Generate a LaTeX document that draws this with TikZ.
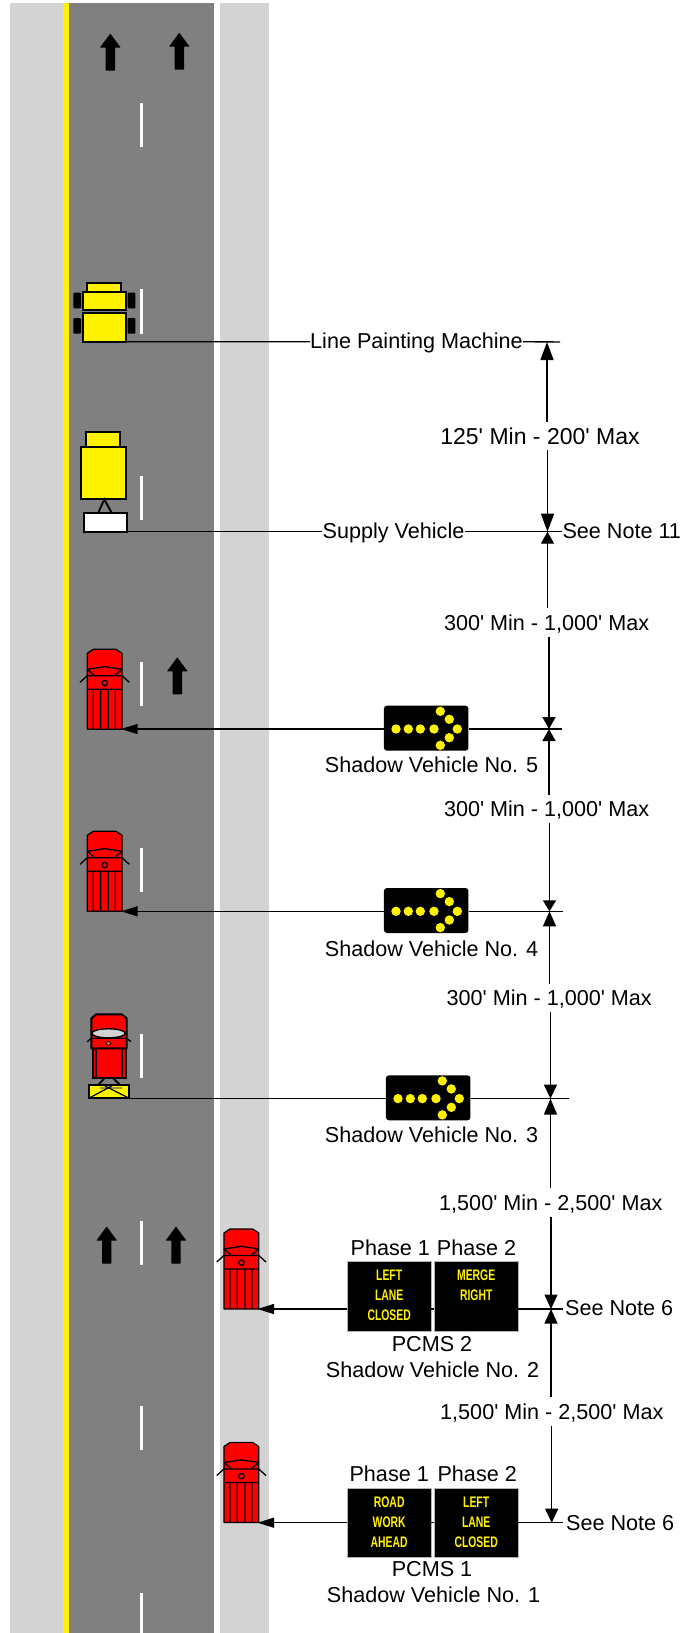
\documentclass[tikz,border=0pt]{standalone}
\usepackage{fontspec}
\usetikzlibrary{arrows.meta}
\setmainfont{Liberation Sans}
\newfontfamily\plainf{Liberation Sans}
\newfontfamily\signf[FakeStretch=0.68]{Liberation Sans Bold}
\definecolor{road}{RGB}{128,128,128}
\definecolor{shoulder}{RGB}{211,211,211}
\tikzset{
  lbl/.style={inner sep=0pt,align=center,text=black,font=\plainf\fontsize{21.6}{24}\selectfont},
  gaplbl/.style={lbl,minimum height=28pt,text depth=0pt},
  signbox/.style={fill=black,draw=road!60,line width=.5pt,minimum width=83.5pt,minimum height=69.5pt,inner sep=0pt},
  signtext/.style={text=yellow,inner sep=0pt,font=\signf\fontsize{15.3}{18}\selectfont},
  leader/.style={line width=1.4pt,black},
  dimup/.style={line width=1.4pt,black,-{Triangle[length=#1,width=13pt]}},
  pointer/.style={line width=1.4pt,black,-{Triangle[length=16.6pt,width=10pt]}},
  veh/.style={draw=black,line width=1.9pt,line join=miter},
  pics/uparrow/.style={code={\fill[black,rounded corners=.4pt] (0,0)--(10.3,14)--(4.7,14)--(4.7,37)--(-4.7,37)--(-4.7,14)--(-10.3,14)--cycle;}},
  pics/lanedash/.style={code={\fill[white] (-1.7,0) rectangle (1.7,44.4);}},
  pics/truck/.style={code={
    \draw[black,line width=1.3pt,fill=red,line join=round] (6,0)--(28.7,0)--(34.7,4)--(34.7,80)--(0,80)--(0,4)--cycle;
    \draw[black,line width=1.3pt] (0,20)--(17.5,17.3)--(34.7,20) (0,26.4)--(34.7,26.4) (0,20)--(7.5,26.4) (34.7,20)--(27,26.4)
      (0,26.4)--(-7.3,33) (34.7,26.4)--(42,33) (0,40)--(34.7,40)
      (6,40)--(6,80) (13.3,40)--(13.3,80) (21,40)--(21,80) (28,40)--(28,80);
    \draw[black,line width=1.3pt] (17.5,33.7) circle[radius=2.7pt];
  }},
  pics/arrowdots/.style={code={
    \foreach \dx/\dy in {-30.2/0.8,-17.9/0.8,-5.9/0.8,7.8/0.8,31.1/0.8,14.1/-16.9,23.1/-8.9,23.1/9.5,14.1/17.1}
      \fill[yellow] (\dx,\dy) circle[radius=4.7pt];
  }},
}
\begin{document}
\begin{tikzpicture}[x=1pt,y=-1pt]
\useasboundingbox (0,0) rectangle (683,1633);
% road surface
\fill[shoulder] (10,3.3) rectangle (63.3,1633);
\fill[yellow] (63.3,3.3) rectangle (68.7,1633);
\fill[road] (68.7,3.3) rectangle (214.3,1633);
\fill[shoulder] (220,3.3) rectangle (269.3,1633);
\foreach \yy in {103,289.3,475.7,661.7,848,1034,1220.5,1406,1593}
  \pic at (141.7,\yy) {lanedash};
\pic at (110.3,33.5) {uparrow};
\pic at (179.3,32.7) {uparrow};
\pic at (177.3,657.3) {uparrow};
\pic at (106.7,1226.5) {uparrow};
\pic at (176,1226.5) {uparrow};
% line painting machine
\foreach \tx/\ty in {73.3/292.7,73.3/318,127.7/292.7,127.7/318}
  \fill[black,rounded corners=1pt] (\tx,\ty) rectangle ++(7.7,15.7);
\draw[veh,fill=yellow] (87.3,283.3) rectangle (121,291.7);
\draw[veh,fill=yellow] (83,291.7) rectangle (126,310);
\draw[veh,fill=yellow] (82.7,312.7) rectangle (125.7,341.7);
% supply vehicle
\draw[veh,fill=yellow] (86,432.3) rectangle (120,447.3);
\draw[veh,fill=yellow] (81.3,447.3) rectangle (125.7,499.3);
\draw[veh] (97.7,514)--(104.3,499.3)--(112.3,514);
\draw[veh,fill=white] (84,513.3) rectangle (127,531.7);
% shadow vehicles
\pic at (87.3,649.3) {truck};
\pic at (87.3,831.3) {truck};
\pic at (224,1229) {truck};
\pic at (224,1442.5) {truck};
% shadow vehicle 3
\draw[veh] (98.3,1085)--(104.3,1078.3) (120,1085)--(113.3,1078.3);
\draw[veh,fill=red] (93,1048.3) rectangle (126,1078.3);
\draw[black,line width=1.9pt] (96,1048.3)--(96,1078.3) (121.7,1048.3)--(121.7,1078.3);
\draw[veh,fill=red,line join=round] (96.3,1014.3)--(121.7,1014.3)--(126.7,1018.3)--(126.7,1048.3)--(91.3,1048.3)--(91.3,1018.3)--cycle;
\draw[black,line width=1.3pt,fill=shoulder] (108.5,1033.3) ellipse[x radius=16.7pt,y radius=4.5pt];
\draw[black,line width=1.3pt] (91.3,1038.3)--(126.7,1038.3) (91.3,1038.3)--(87.3,1041.7) (126.7,1038.3)--(131,1041.7);
\draw[black,line width=.8pt,fill=orange] (108.5,1043.3) circle[radius=2pt];
\draw[veh,fill=yellow] (88.7,1085) rectangle (129.3,1098.3);
\fill[yellow!55!black] (100,1087.3) rectangle (121.7,1089.3);
\draw[black,line width=1.2pt] (88.7,1098.3)--(111.7,1086) (129.3,1098.3)--(105,1086);
% anchors
\coordinate (mach) at (125.7,341.7);
\coordinate (supp) at (127,531.7);
\coordinate (tr5) at (121,729);
\coordinate (tr4) at (121,911.3);
\coordinate (tr3) at (123.3,1098.6);
\coordinate (tr2) at (257.5,1309);
\coordinate (tr1) at (257.5,1522.7);
\coordinate (d1) at (547,342);
\coordinate (d2) at (547.5,531.7);
\coordinate (d3) at (549,729);
\coordinate (d4) at (549.5,911.3);
\coordinate (d5) at (550.5,1098.6);
\coordinate (d6) at (551,1309);
\coordinate (d7) at (551.7,1522.7);
\coordinate (e1) at (560,342);
\coordinate (e3) at (562,729);
\coordinate (e4) at (562.7,911.3);
\coordinate (e5) at (569.3,1098.6);
\coordinate (e6) at (563,1309);
\coordinate (e7) at (563,1522.7);
% arrow boards
\node[fill=black,rounded corners=3pt,minimum width=84.5pt,minimum height=45pt,inner sep=0pt] (ab5) at (426.2,728.2) {};
\pic at (ab5.center) {arrowdots};
\node[fill=black,rounded corners=3pt,minimum width=84.5pt,minimum height=45pt,inner sep=0pt] (ab4) at (426.2,910.5) {};
\pic at (ab4.center) {arrowdots};
\node[fill=black,rounded corners=3pt,minimum width=84.5pt,minimum height=45pt,inner sep=0pt] (ab3) at (428.2,1097.8) {};
\pic at (ab3.center) {arrowdots};
% PCMS boards
\node[signbox] (s2a) at (389.2,1296.3) {};
\node[signbox] (s2b) at (476.2,1296.3) {};
\node[signbox] (s1a) at (389.2,1522.5) {};
\node[signbox] (s1b) at (476.2,1522.5) {};
\node[signtext] (s2a1) at (389.2,1275.7) {LEFT};
\node[signtext] (s2a2) at (389.2,1295.7) {LANE};
\node[signtext] (s2a3) at (389.2,1315.7) {CLOSED};
\node[signtext] (s2b1) at (476.2,1275.7) {MERGE};
\node[signtext] (s2b2) at (476.2,1295.7) {RIGHT};
\node[signtext] (s1a1) at (389.2,1502.7) {ROAD};
\node[signtext] (s1a2) at (389.2,1522.7) {WORK};
\node[signtext] (s1a3) at (389.2,1542.7) {AHEAD};
\node[signtext] (s1b1) at (476.2,1502.7) {LEFT};
\node[signtext] (s1b2) at (476.2,1522.7) {LANE};
\node[signtext] (s1b3) at (476.2,1542.7) {CLOSED};
% labels
\node[lbl] (lpm) at (416.5,343) {Line Painting Machine};
\node[lbl] (sup) at (393.5,533) {Supply Vehicle};
\node[lbl,anchor=west] (n11) at (562.3,531.5) {See Note 11};
\node[lbl,anchor=west] (n6a) at (565,1308.5) {See Note 6};
\node[lbl,anchor=west] (n6b) at (566,1523.3) {See Note 6};
\node[lbl] (sv5) at (431.6,765) {Shadow Vehicle No. 5};
\node[lbl] (sv4) at (431.6,948.5) {Shadow Vehicle No. 4};
\node[lbl] (sv3) at (431.6,1135) {Shadow Vehicle No. 3};
\node[lbl] (pc2) at (432,1344) {PCMS 2};
\node[lbl] (sv2) at (432.6,1370) {Shadow Vehicle No. 2};
\node[lbl] (pc1) at (432,1569) {PCMS 1};
\node[lbl] (sv1) at (433.6,1595) {Shadow Vehicle No. 1};
\node[lbl] (p2a) at (390.3,1247.3) {Phase 1};
\node[lbl] (p2b) at (476.5,1247.3) {Phase 2};
\node[lbl] (p1a) at (389.2,1474) {Phase 1};
\node[lbl] (p1b) at (477.2,1474) {Phase 2};
\node[gaplbl,font=\plainf\fontsize{23}{24}\selectfont] (g1) at (540,436) {125' Min - 200' Max};
\node[gaplbl] (g2) at (546.6,622.6) {300' Min - 1,000' Max};
\node[gaplbl] (g3) at (546.6,809) {300' Min - 1,000' Max};
\node[gaplbl] (g4) at (549.2,998) {300' Min - 1,000' Max};
\node[gaplbl] (g5) at (550.8,1202.6) {1,500' Min - 2,500' Max};
\node[gaplbl] (g6) at (551.8,1411.5) {1,500' Min - 2,500' Max};
% leaders
\draw[leader] (mach)--(mach -| lpm.west) (mach -| lpm.east)--(e1);
\draw[leader] (supp)--(supp -| sup.west) (supp -| sup.east)--(n11.west |- supp);
\draw[pointer] (ab5.west |- tr5)--(tr5);
\draw[leader] (ab5.east |- tr5)--(e3);
\draw[pointer] (ab4.west |- tr4)--(tr4);
\draw[leader] (ab4.east |- tr4)--(e4);
\draw[leader] (tr3)--(ab3.west |- tr3) (ab3.east |- tr3)--(e5);
\draw[pointer] (s2a.west |- tr2)--(tr2);
\draw[leader] (s2a.east |- tr2)--(s2b.west |- tr2) (s2b.east |- tr2)--(e6);
\draw[pointer] (s1a.west |- tr1)--(tr1);
\draw[leader] (s1a.east |- tr1)--(s1b.west |- tr1) (s1b.east |- tr1)--(e7);
% dimension lines
\draw[dimup=18pt] (d1 |- g1.north)--(d1);
\draw[dimup=18pt] (d2 |- g1.south)--(d2);
\draw[dimup=12pt] (d2 |- g2.north)--(d2);
\draw[dimup=12pt] (d3 |- g2.south)--(d3);
\draw[dimup=12pt] (d3 |- g3.north)--(d3);
\draw[dimup=11pt] (d4 |- g3.south)--(d4);
\draw[dimup=15pt] (d4 |- g4.north)--(d4);
\draw[dimup=14pt] (d5 |- g4.south)--(d5);
\draw[dimup=16pt] (d5 |- g5.north)--(d5);
\draw[dimup=14.5pt] (d6 |- g5.south)--(d6);
\draw[dimup=14.5pt] (d6 |- g6.north)--(d6);
\draw[dimup=14pt] (d7 |- g6.south)--(d7);
\end{tikzpicture}
\end{document}
